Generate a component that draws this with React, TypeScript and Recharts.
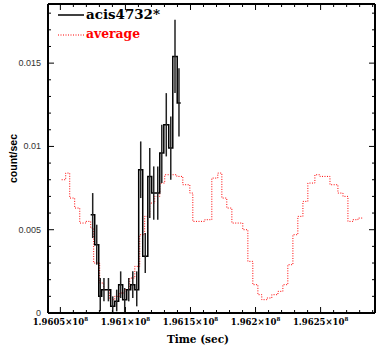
import React from "react";
import {
  ComposedChart,
  Line,
  Scatter,
  ErrorBar,
  XAxis,
  YAxis,
} from "recharts";

// acis4732* light curve: bin start times (s), rates and error limits (count/sec)
const binStart = [
  196073300, 196076400, 196079500, 196081800, 196085200, 196088700, 196091800, 196094800,
  196097900, 196101000, 196104100, 196107200, 196110200, 196113300, 196117200, 196120200,
  196123300, 196126400, 196129500, 196133300, 196136400, 196139800,
];
const binEnd = 196142500;
const rate = [
  0.0059, 0.0041, 0.001, 0.0014, 0.0014, 0.0004, 0.0007, 0.0017, 0.0008, 0.0014, 0.0017,
  0.0014, 0.0086, 0.0034, 0.0082, 0.0072, 0.0072, 0.0096, 0.0113, 0.0099, 0.0154, 0.0126,
];
const rateLow = [
  0.0045, 0.0029, 0.0001, 0.0007, 0.0007, 0.0, 0.0001, 0.0009, 0.0, 0.0007, 0.0009,
  0.0004, 0.0069, 0.0024, 0.0057, 0.0056, 0.0056, 0.0078, 0.0094, 0.008, 0.0132, 0.0106,
];
const rateHigh = [
  0.0072, 0.0053, 0.0021, 0.0021, 0.0021, 0.001, 0.0014, 0.0025, 0.0015, 0.0021, 0.0025,
  0.0025, 0.0103, 0.0048, 0.0099, 0.0088, 0.0088, 0.0113, 0.0132, 0.0118, 0.0176, 0.0147,
];

// average curve: step start times (last entry is the end of the last step)
const avgTime = [
  196051000, 196054100, 196057200, 196061000, 196064900, 196069500, 196073300, 196075600,
  196080200, 196083300, 196087900, 196091800, 196095600, 196099500, 196103300, 196107200,
  196111000, 196114800, 196118700, 196122500, 196126400, 196130200, 196139500, 196144100,
  196149500, 196151800, 196161000, 196166400, 196171000, 196174100, 196177900, 196181800,
  196190200, 196194100, 196197900, 196201800, 196204800, 196208700, 196212500, 196217200,
  196221000, 196224800, 196228700, 196232500, 196236400, 196240200, 196245600, 196249500,
  196257200, 196263300, 196267200, 196271000, 196274800, 196278700, 196282500,
];
const avgRate = [
  0.008, 0.0084, 0.0069, 0.0063, 0.0054, 0.0055, 0.0051, 0.003, 0.0018, 0.0014, 0.0008,
  0.001, 0.0012, 0.0014, 0.0021, 0.0028, 0.0047, 0.0058, 0.0066, 0.007, 0.0078, 0.0083,
  0.0082, 0.0077, 0.0072, 0.0055, 0.0056, 0.0081, 0.0084, 0.0069, 0.0063, 0.0054, 0.005,
  0.0031, 0.0017, 0.0011, 0.0008, 0.0009, 0.0011, 0.0013, 0.0017, 0.0029, 0.0047, 0.0058,
  0.0067, 0.0078, 0.0083, 0.0082, 0.0077, 0.0072, 0.007, 0.0055, 0.0056, 0.0057,
];

const xMajor = [196050000, 196100000, 196150000, 196200000, 196250000];
const xMajorLabels = ["1.9605", "1.961", "1.9615", "1.962", "1.9625"];
const yMajor = [0, 0.005, 0.01, 0.015];
const yMajorLabels = ["0", "0.005", "0.01", "0.015"];

const X_DOMAIN: [number, number] = [196040500, 196291800];
const Y_DOMAIN: [number, number] = [0, 0.01855];

const xTicks: number[] = [];
for (let k = -1; k <= 25; k++) {
  const t = 196050000 + k * 10000;
  if (t > X_DOMAIN[0] && t < X_DOMAIN[1]) xTicks.push(t);
}
const yTicks: number[] = [];
for (let k = 0; k <= 18; k++) yTicks.push(k / 1000);

const stepData = [
  ...binStart.map((t, i) => ({ t, v: rate[i] })),
  { t: binEnd, v: rate[rate.length - 1] },
];
const errData = binStart.map((t, i) => {
  const end = i + 1 < binStart.length ? binStart[i + 1] : binEnd;
  return { t: (t + end) / 2, v: rate[i], err: [rate[i] - rateLow[i], rateHigh[i] - rate[i]] };
});
const avgData = avgTime.map((t, i) => ({ t, v: avgRate[Math.min(i, avgRate.length - 1)] }));

const SERIF = "'DejaVu Serif', serif";
const SANS = "'Liberation Sans', Arial, sans-serif";
const FRAME = { stroke: "#000", strokeWidth: 2 };

const isMajorX = (v: number) => xMajor.indexOf(v) >= 0;
const isMajorY = (v: number) => Math.round(v * 1000) % 5 === 0;

const BottomTick = (props: any) => {
  const { x, y, payload } = props;
  const idx = xMajor.indexOf(payload.value);
  return (
    <g>
      <line x1={x} x2={x} y1={y} y2={y - (idx >= 0 ? 6 : 3)} stroke="#000" strokeWidth={1} />
      {idx >= 0 && (
        <text x={x} y={y + 12} textAnchor="middle" fontFamily={SERIF} fontWeight="bold" fontSize={8.5} fill="#000">
          {xMajorLabels[idx]}×10
          <tspan dy={-4} fontSize={5.5}>8</tspan>
        </text>
      )}
    </g>
  );
};

const TopTick = (props: any) => {
  const { x, y, payload } = props;
  return <line x1={x} x2={x} y1={y} y2={y + (isMajorX(payload.value) ? 6 : 3)} stroke="#000" strokeWidth={1} />;
};

const LeftTick = (props: any) => {
  const { x, y, payload } = props;
  const idx = yMajor.findIndex((m) => Math.abs(m - payload.value) < 1e-9);
  return (
    <g>
      <line x1={x} x2={x + (isMajorY(payload.value) ? 6 : 3)} y1={y} y2={y} stroke="#000" strokeWidth={1} />
      {idx >= 0 && (
        <text x={x - 7} y={y + 3} textAnchor="end" fontFamily={SANS} fontSize={9} fill="#333">
          {yMajorLabels[idx]}
        </text>
      )}
    </g>
  );
};

const RightTick = (props: any) => {
  const { x, y, payload } = props;
  return <line x1={x} x2={x - (isMajorY(payload.value) ? 6 : 3)} y1={y} y2={y} stroke="#000" strokeWidth={1} />;
};

const NoDot = () => <g />;

export default function App() {
  return (
    <div style={{ position: "absolute", left: 0, top: 0, width: 382, height: 351, background: "#fff" }}>
      <ComposedChart width={382} height={351} margin={{ top: 0, right: 0, bottom: 0, left: 0 }}>
        <XAxis
          xAxisId="b"
          dataKey="t"
          type="number"
          domain={X_DOMAIN}
          allowDataOverflow
          ticks={xTicks}
          interval={0}
          height={38}
          tickSize={0}
          tickMargin={0}
          tickLine={false}
          tick={BottomTick}
          axisLine={FRAME}
          label={{
            content: (p: any) => (
              <text
                x={p.viewBox.x + 150}
                y={p.viewBox.y + 30}
                textAnchor="middle"
                fontFamily={SERIF}
                fontWeight="bold"
                fontSize={10.5}
                fill="#000"
              >
                Time (sec)
              </text>
            ),
          }}
        />
        <XAxis
          xAxisId="t"
          orientation="top"
          dataKey="t"
          type="number"
          domain={X_DOMAIN}
          allowDataOverflow
          ticks={xTicks}
          interval={0}
          height={4}
          tickSize={0}
          tickMargin={0}
          tickLine={false}
          tick={TopTick}
          axisLine={FRAME}
        />
        <YAxis
          yAxisId="l"
          type="number"
          domain={Y_DOMAIN}
          allowDataOverflow
          ticks={yTicks}
          interval={0}
          width={48}
          tickSize={0}
          tickMargin={0}
          tickLine={false}
          tick={LeftTick}
          axisLine={FRAME}
          label={{
            content: (p: any) => {
              const cx = p.viewBox.x + 17;
              const cy = p.viewBox.y + p.viewBox.height / 2;
              return (
                <text
                  x={cx}
                  y={cy}
                  transform={`rotate(-90 ${cx} ${cy})`}
                  textAnchor="middle"
                  fontFamily={SANS}
                  fontWeight="bold"
                  fontSize={10.5}
                  fill="#000"
                >
                  count/sec
                </text>
              );
            },
          }}
        />
        <YAxis
          yAxisId="r"
          orientation="right"
          type="number"
          domain={Y_DOMAIN}
          allowDataOverflow
          ticks={yTicks}
          interval={0}
          width={7}
          tickSize={0}
          tickMargin={0}
          tickLine={false}
          tick={RightTick}
          axisLine={FRAME}
        />
        <Line
          xAxisId="b"
          yAxisId="l"
          data={avgData}
          dataKey="v"
          type="stepAfter"
          stroke="#ff0000"
          strokeWidth={1}
          strokeDasharray="1 1.5"
          dot={false}
          isAnimationActive={false}
        />
        <Line
          xAxisId="b"
          yAxisId="l"
          data={stepData}
          dataKey="v"
          type="stepAfter"
          stroke="#000"
          strokeWidth={1.5}
          dot={false}
          isAnimationActive={false}
        />
        <Scatter xAxisId="b" yAxisId="l" data={errData} dataKey="v" shape={NoDot} isAnimationActive={false}>
          <ErrorBar dataKey="err" direction="y" width={0} stroke="#222" strokeWidth={1.5} />
        </Scatter>
      </ComposedChart>
      {/* legend inside the plot, top left */}
      <svg width={180} height={45} style={{ position: "absolute", left: 0, top: 0, pointerEvents: "none" }}>
        <line x1={58} x2={84} y1={15} y2={15} stroke="#000" strokeWidth={1.5} />
        <text x={86} y={19} fontFamily={SERIF} fontWeight="bold" fontSize={13} fill="#000" textLength={74} lengthAdjust="spacingAndGlyphs">
          acis4732*
        </text>
        <line x1={58} x2={84} y1={35} y2={35} stroke="#ff0000" strokeWidth={1} strokeDasharray="1 1.5" />
        <text x={86} y={38} fontFamily={SERIF} fontWeight="bold" fontSize={13} fill="#ff0000" textLength={54} lengthAdjust="spacingAndGlyphs">
          average
        </text>
      </svg>
    </div>
  );
}
